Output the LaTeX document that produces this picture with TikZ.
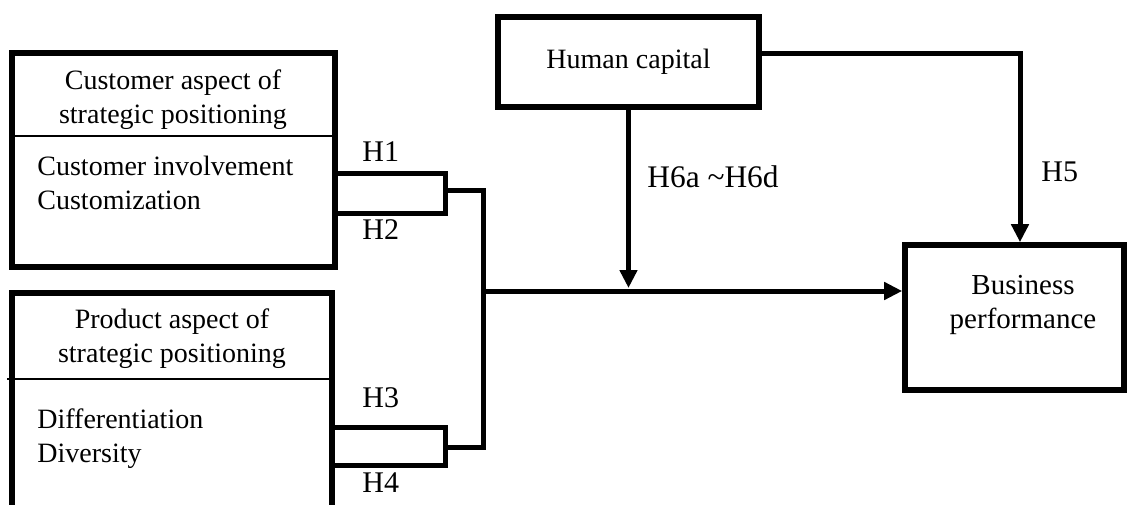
\documentclass[tikz,border=0pt]{standalone}
\usepackage{fontspec}
\setmainfont{Liberation Serif}
\usetikzlibrary{arrows.meta}

\begin{document}
\begin{tikzpicture}[x=0.5pt,y=-0.5pt,
  box/.style={draw,line width=2.8pt,inner sep=0pt,outer sep=1.4pt},
  txt/.style={font=\fontsize{14}{17}\selectfont,inner sep=0pt},
  hyp/.style={font=\fontsize{15}{18}\selectfont,inner sep=0pt,anchor=west},
  link/.style={line width=2.5pt},
  arr/.style={link,-{Triangle[length=9pt,width=8.5pt]}},
  divider/.style={line width=0.7pt}]
  \useasboundingbox (0,0) rectangle (1131,504);
  \fill[white] (0,0) rectangle (1131,504);
  \clip (0,0) rectangle (1131,504);

  % construct boxes
  \node[box,minimum width=161.5pt,minimum height=107pt] (cust) at (173.5,160) {};
  \node[box,minimum width=160pt,minimum height=133.5pt] (prod) at (172,426.5) {};
  \node[box,txt,minimum width=130.5pt,minimum height=45pt] (hc) at (628.5,62) {Human capital};
  \node[box,minimum width=109.5pt,minimum height=72.5pt] (bp) at (1014.5,317.5) {};

  % dividers between heading and items
  \draw[divider] (cust.west |- 0,136) -- (cust.east |- 0,136);
  \draw[divider] (7,379) -- (prod.east |- 0,379);

  % box texts
  \node[txt,align=center] (custhead) at (173,99.5) {Customer aspect of\\strategic positioning};
  \node[txt,align=left,anchor=west] (custitems) at (37,183) {Customer involvement\\Customization};
  \node[txt,align=center] (prodhead) at (172,338.5) {Product aspect of\\strategic positioning};
  \node[txt,align=left,anchor=west] (proditems) at (37,439) {Differentiation\\Diversity};
  \node[txt,align=center,font=\fontsize{14.5}{17}\selectfont] (bptext) at (1023,305) {Business\\performance};

  % junction points
  \coordinate (j1t) at (445,173);
  \coordinate (j1b) at (445,213);
  \coordinate (j1m) at (445,190);
  \coordinate (j2t) at (445,427);
  \coordinate (j2b) at (445,465);
  \coordinate (j2m) at (445,447);
  \coordinate (bust) at (483,190);
  \coordinate (busb) at (483,447);
  \coordinate (hub) at (483,291);
  \coordinate (h5) at (1020,53);

  % brackets from the two constructs
  \draw[link] (cust.east |- j1t) -- (j1t) -- (j1b) -- (cust.east |- j1b);
  \draw[link] (prod.east |- j2t) -- (j2t) -- (j2b) -- (prod.east |- j2b);
  \draw[link] (j1m) -- (bust) -- (busb) -- (j2m);

  % arrows
  \draw[arr] (hub) -- (hub -| bp.west);
  \draw[arr] (hc.south) -- (hc.south |- 0,288);
  \draw[arr] (hc.east |- h5) -- (h5) -- (h5 |- bp.north);

  % hypothesis labels
  \node[hyp] (h1) at (362,152) {H1};
  \node[hyp] (h2) at (362,230) {H2};
  \node[hyp] (h3) at (362,398) {H3};
  \node[hyp] (h4) at (362,483) {H4};
  \node[hyp] (h5l) at (1041,172) {H5};
  \node[hyp,font=\fontsize{15.7}{18}\selectfont] (h6) at (647,177) {H6a \textasciitilde H6d};
\end{tikzpicture}
\end{document}
